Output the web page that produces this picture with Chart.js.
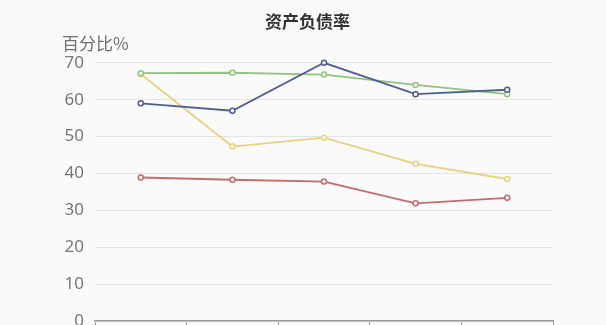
<!DOCTYPE html>
<html>
<head>
<meta charset="utf-8">
<script src="https://cdn.jsdelivr.net/npm/chart.js@4/dist/chart.umd.min.js"></script>
<style>
  html, body { margin: 0; padding: 0; background: #fafafa; }
  #wrap { width: 606px; height: 325px; overflow: hidden; position: relative; }
  #box { width: 606px; height: 350px; position: absolute; left: 0; top: 0; }
</style>
</head>
<body>
<div id="wrap"><div id="box"><canvas id="c"></canvas></div></div>
<script>
const categories = ['2017', '2018', '2019', '2020', '2021'];
const yTicks = [0, 10, 20, 30, 40, 50, 60, 70];
const seriesBlue   = [59.0, 57.0, 70.0, 61.5, 62.7];
const seriesGreen  = [67.2, 67.3, 66.8, 64.0, 61.5];
const seriesYellow = [66.9, 47.3, 49.7, 42.6, 38.5];
const seriesRed    = [38.9, 38.3, 37.8, 31.9, 33.4];

function ds(label, data, color) {
  return {
    label, data,
    borderColor: color,
    backgroundColor: '#ffffff',
    pointBackgroundColor: '#ffffff',
    pointBorderColor: color,
    pointRadius: 2.5,
    pointBorderWidth: 1.5,
    borderWidth: 1.8,
    tension: 0,
    fill: false,
    clip: false
  };
}

new Chart(document.getElementById('c'), {
  type: 'line',
  data: {
    labels: categories,
    datasets: [
      ds('系列1', seriesBlue, '#4d5f96'),
      ds('系列2', seriesGreen, '#93c47d'),
      ds('系列3', seriesYellow, '#ecd07c'),
      ds('系列4', seriesRed, '#c56b6a')
    ]
  },
  options: {
    responsive: true,
    maintainAspectRatio: false,
    animation: false,
    layout: { padding: { left: 62, right: 53, top: 0, bottom: 0 } },
    plugins: {
      legend: { display: false },
      tooltip: { enabled: false },
      title: {
        display: true,
        text: '资产负债率',
        color: '#333333',
        font: { family: '"Noto Sans CJK SC", "Noto Sans", sans-serif', size: 17, weight: 'bold', lineHeight: 1.2 },
        padding: { top: 11, bottom: 2 }
      },
      subtitle: {
        display: true,
        text: '百分比%',
        align: 'start',
        color: '#707070',
        font: { family: '"Noto Sans CJK SC", "Noto Sans", sans-serif', size: 17, lineHeight: 1.2 },
        padding: { top: 0, bottom: 9 }
      }
    },
    scales: {
      x: {
        offset: true,
        grid: { display: true, drawOnChartArea: false, drawTicks: true, tickLength: 8, color: '#9a9a9a', offset: true },
        border: { display: true, color: '#9a9a9a', width: 1.5 },
        ticks: { display: false },
        afterFit: (s) => { s.height = 350 - 321; }
      },
      y: {
        min: 0,
        max: 70,
        afterBuildTicks: (s) => { s.ticks = yTicks.map(v => ({ value: v })); },
        grid: { color: '#e4e4e4', drawTicks: false, lineWidth: 1 },
        border: { display: false },
        ticks: {
          color: '#777777',
          padding: 11,
          font: { family: '"Noto Sans", "Liberation Sans", sans-serif', size: 17 }
        },
        afterFit: (s) => { s.width = 95 - 62; }
      }
    }
  }
});
</script>
</body>
</html>
